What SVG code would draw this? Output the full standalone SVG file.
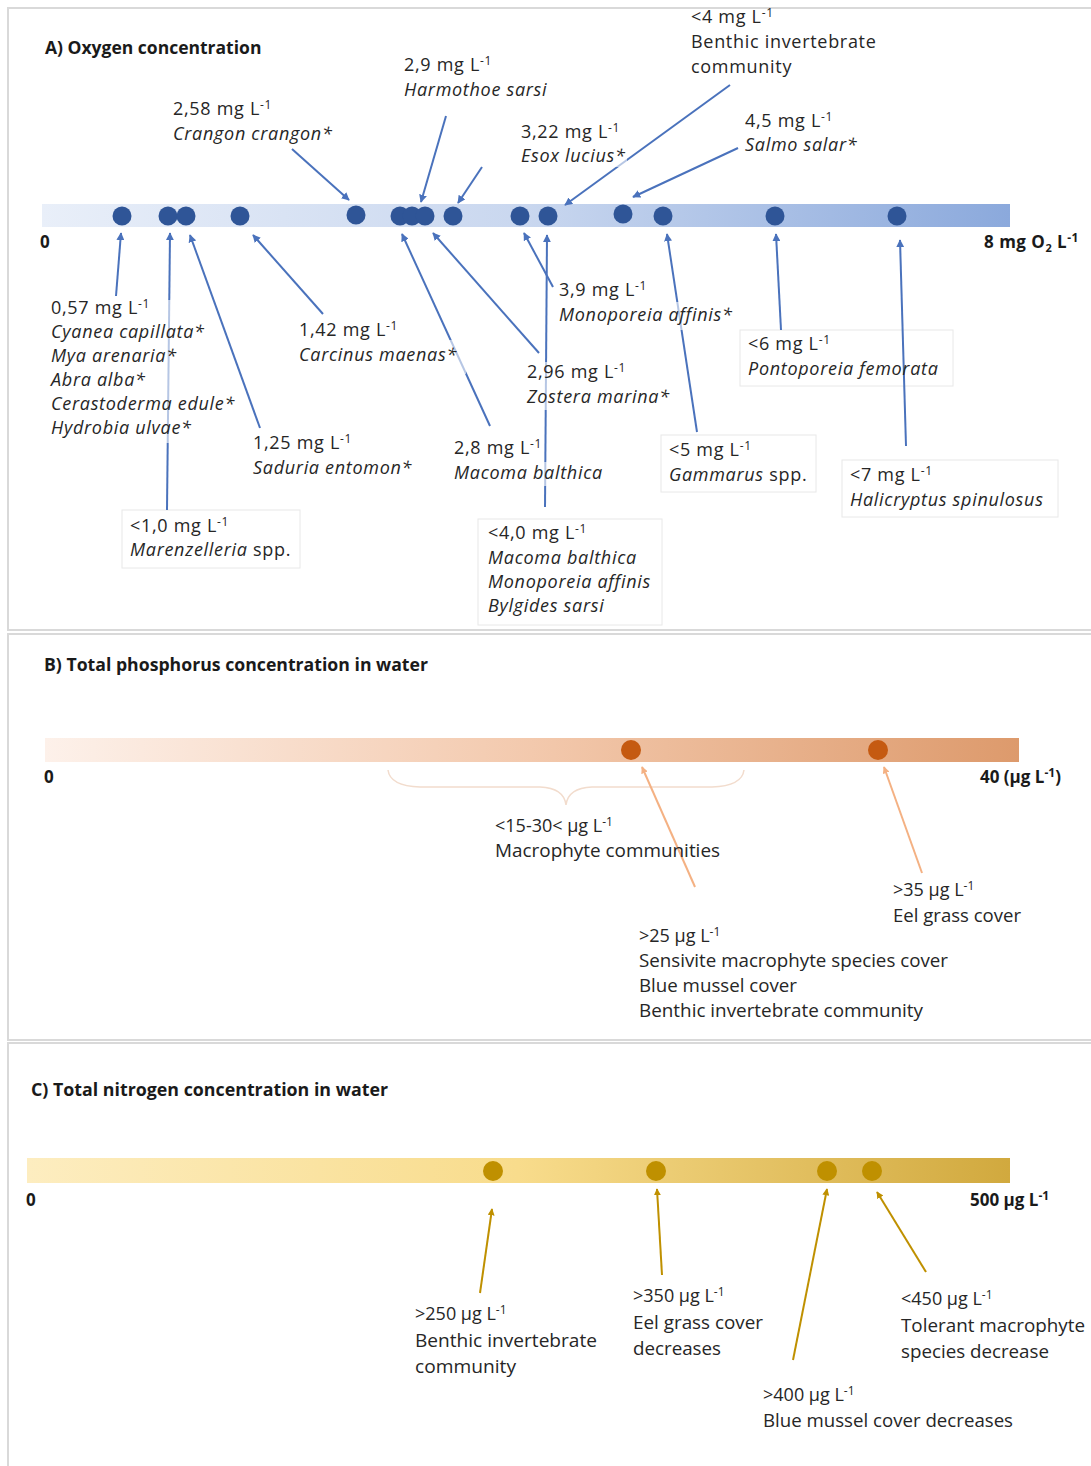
<svg xmlns="http://www.w3.org/2000/svg" width="1091" height="1466" viewBox="0 0 1091 1466">
<defs>
<linearGradient id="gA" x1="0" x2="1" y1="0" y2="0"><stop offset="0" stop-color="#e9eff9"/><stop offset="0.5" stop-color="#c9d7ef"/><stop offset="1" stop-color="#8ba9dc"/></linearGradient>
<linearGradient id="gB" x1="0" x2="1" y1="0" y2="0"><stop offset="0" stop-color="#fdf1ea"/><stop offset="0.5" stop-color="#f3c9ad"/><stop offset="1" stop-color="#dd9a6c"/></linearGradient>
<linearGradient id="gC" x1="0" x2="1" y1="0" y2="0"><stop offset="0" stop-color="#fdedc0"/><stop offset="0.5" stop-color="#f8dc8c"/><stop offset="1" stop-color="#d1a93e"/></linearGradient>
<marker id="mA" viewBox="0 0 10 10" refX="9" refY="5" markerWidth="8" markerHeight="8" markerUnits="userSpaceOnUse" orient="auto"><path d="M0,0 L10,5 L0,10 z" fill="#4a72bc"/></marker>
<marker id="mB" viewBox="0 0 10 10" refX="9" refY="5" markerWidth="7" markerHeight="7" markerUnits="userSpaceOnUse" orient="auto"><path d="M0,0 L10,5 L0,10 z" fill="#f4b183"/></marker>
<marker id="mC" viewBox="0 0 10 10" refX="9" refY="5" markerWidth="7" markerHeight="7" markerUnits="userSpaceOnUse" orient="auto"><path d="M0,0 L10,5 L0,10 z" fill="#bf9000"/></marker>
</defs>
<style>
.frame{fill:#fff;stroke:#d9d9d9;stroke-width:2}
.box{fill:#fff;stroke:#e8e8e8;stroke-width:1}
.veil{fill:#fff;opacity:0.6}
.t{font-family:"Open Sans","DejaVu Sans",sans-serif;font-size:18px;letter-spacing:0.7px;fill:#262626}
.i{font-style:italic}
.b{font-weight:bold}
.title{font-family:"Open Sans","DejaVu Sans",sans-serif;font-size:17.5px;font-weight:bold;fill:#1a1a1a}
.n{font-family:"Open Sans","DejaVu Sans",sans-serif;font-size:18px;fill:#262626}
.nb{font-family:"Open Sans","DejaVu Sans",sans-serif;font-size:17px;font-weight:bold;fill:#1a1a1a}
.sup{font-size:12px}
.dA{fill:#2f5597}
.dB{fill:#c55a11}
.dC{fill:#bf9000}
.aA{stroke:#4a72bc;stroke-width:2;fill:none;marker-end:url(#mA)}
.aB{stroke:#f4b183;stroke-width:2;fill:none;marker-end:url(#mB)}
.aC{stroke:#bf9000;stroke-width:2;fill:none;marker-end:url(#mC)}
</style>
<rect width="1091" height="1466" fill="#fff"/>
<g id="frames">
<rect class="frame" x="8" y="8" width="1100" height="622"/>
<rect class="frame" x="8" y="634" width="1100" height="406"/>
<rect class="frame" x="8" y="1043" width="1100" height="440"/>
</g>
<g id="panelA">
<text class="title" x="45" y="54">A) Oxygen concentration</text>
<rect x="42" y="204" width="968" height="23" fill="url(#gA)"/>
<text class="nb" x="40" y="248">0</text>
<text class="nb" x="984" y="248" letter-spacing="0.5">8 mg O<tspan font-size="11" dy="4">2</tspan><tspan dy="-4"> L</tspan><tspan class="sup" dy="-6">-1</tspan></text>
</g>
<g id="dotsA">
<circle class="dA" cx="122" cy="216" r="9.5"/>
<circle class="dA" cx="168" cy="216" r="9.5"/>
<circle class="dA" cx="186" cy="216" r="9.5"/>
<circle class="dA" cx="240" cy="216" r="9.5"/>
<circle class="dA" cx="356" cy="215" r="9.5"/>
<circle class="dA" cx="400" cy="216" r="9.5"/>
<circle class="dA" cx="412" cy="216" r="9.5"/>
<circle class="dA" cx="425" cy="216" r="9.5"/>
<circle class="dA" cx="453" cy="216" r="9.5"/>
<circle class="dA" cx="520" cy="216" r="9.5"/>
<circle class="dA" cx="548" cy="216" r="9.5"/>
<circle class="dA" cx="623" cy="214" r="9.5"/>
<circle class="dA" cx="663" cy="216" r="9.5"/>
<circle class="dA" cx="775" cy="216" r="9.5"/>
<circle class="dA" cx="897" cy="216" r="9.5"/>
</g>
<g id="boxesA">
<rect class="box" x="122" y="510" width="178" height="58"/>
<rect class="box" x="478" y="519" width="184" height="106"/>
<rect class="box" x="661" y="435" width="155" height="57"/>
<rect class="box" x="740" y="330" width="213" height="56"/>
<rect class="box" x="842" y="460" width="216" height="57"/>
</g>
<g id="panelB">
<rect x="45" y="738" width="974" height="24" fill="url(#gB)"/>
<ellipse class="dB" cx="631" cy="750" rx="10" ry="10"/>
<ellipse class="dB" cx="878" cy="750" rx="10" ry="10"/>
<path d="M388,770 Q390,786 420,787 L540,787 Q564,788 566,805 Q568,788 592,787 L712,787 Q742,786 744,770" fill="none" stroke="#f2dccd" stroke-width="1.5"/>
</g>
<g id="panelC">
<rect x="27" y="1158" width="983" height="25" fill="url(#gC)"/>
<ellipse class="dC" cx="493" cy="1171" rx="10" ry="10"/>
<ellipse class="dC" cx="656" cy="1171" rx="10" ry="10"/>
<ellipse class="dC" cx="827" cy="1171" rx="10" ry="10"/>
<ellipse class="dC" cx="872" cy="1171" rx="10" ry="10"/>
</g>
<g id="connectors">
<line class="aA" x1="292" y1="149" x2="349" y2="200"/>
<line class="aA" x1="446" y1="116" x2="421" y2="202"/>
<line class="aA" x1="482" y1="167" x2="458" y2="203"/>
<line class="aA" x1="730" y1="85" x2="565" y2="205"/>
<line class="aA" x1="738" y1="148" x2="633" y2="197"/>
<line class="aA" x1="116" y1="296" x2="121" y2="233"/>
<line class="aA" x1="167" y1="510" x2="170" y2="233"/>
<line class="aA" x1="260" y1="428" x2="190" y2="235"/>
<line class="aA" x1="323" y1="314" x2="253" y2="235"/>
<line class="aA" x1="490" y1="426" x2="402" y2="234"/>
<line class="aA" x1="539" y1="353" x2="433" y2="233"/>
<line class="aA" x1="553" y1="287" x2="524" y2="233"/>
<line class="aA" x1="545" y1="507" x2="547" y2="235"/>
<line class="aA" x1="697" y1="432" x2="667" y2="234"/>
<line class="aA" x1="781" y1="330" x2="776" y2="234"/>
<line class="aA" x1="906" y1="446" x2="900" y2="240"/>
<line class="aB" x1="695" y1="887" x2="642" y2="767"/>
<line class="aB" x1="922" y1="873" x2="884" y2="767"/>
<line class="aC" x1="480" y1="1293" x2="492" y2="1209"/>
<line class="aC" x1="662" y1="1275" x2="657" y2="1189"/>
<line class="aC" x1="793" y1="1360" x2="827" y2="1189"/>
<line class="aC" x1="926" y1="1272" x2="877" y2="1192"/>
</g>
<g id="veils">
<rect class="veil" x="45" y="300" width="160" height="143"/>
<rect class="veil" x="297" y="340" width="169" height="34"/>
<rect class="veil" x="519" y="145" width="108" height="22"/>
<rect class="veil" x="525" y="362" width="150" height="48"/>
<rect class="veil" x="452" y="462" width="160" height="24"/>
<rect class="veil" x="557" y="302" width="180" height="28"/>
</g>
<g id="labelsA">
<text class="t" x="404" y="71">2,9 mg L<tspan class="sup" dy="-6">-1</tspan></text>
<text class="t i" x="404" y="96">Harmothoe sarsi</text>
<text class="t" x="173" y="115">2,58 mg L<tspan class="sup" dy="-6">-1</tspan></text>
<text class="t i" x="173" y="140">Crangon crangon*</text>
<text class="t" x="521" y="138">3,22 mg L<tspan class="sup" dy="-6">-1</tspan></text>
<text class="t i" x="521" y="162">Esox lucius*</text>
<text class="t" x="691" y="23">&lt;4 mg L<tspan class="sup" dy="-6">-1</tspan></text>
<text class="t" x="691" y="48">Benthic invertebrate</text>
<text class="t" x="691" y="73">community</text>
<text class="t" x="745" y="127">4,5 mg L<tspan class="sup" dy="-6">-1</tspan></text>
<text class="t i" x="745" y="151">Salmo salar*</text>
<text class="t" x="51" y="314">0,57 mg L<tspan class="sup" dy="-6">-1</tspan></text>
<text class="t i" x="51" y="338">Cyanea capillata*</text>
<text class="t i" x="51" y="362">Mya arenaria*</text>
<text class="t i" x="51" y="386">Abra alba*</text>
<text class="t i" x="51" y="410">Cerastoderma edule*</text>
<text class="t i" x="51" y="434">Hydrobia ulvae*</text>
<text class="t" x="299" y="336">1,42 mg L<tspan class="sup" dy="-6">-1</tspan></text>
<text class="t i" x="299" y="361">Carcinus maenas*</text>
<text class="t" x="253" y="449">1,25 mg L<tspan class="sup" dy="-6">-1</tspan></text>
<text class="t i" x="253" y="474">Saduria entomon*</text>
<text class="t" x="130" y="532">&lt;1,0 mg L<tspan class="sup" dy="-6">-1</tspan></text>
<text class="t" x="130" y="556"><tspan class="i">Marenzelleria</tspan> spp.</text>
<text class="t" x="454" y="454">2,8 mg L<tspan class="sup" dy="-6">-1</tspan></text>
<text class="t i" x="454" y="479">Macoma balthica</text>
<text class="t" x="527" y="378">2,96 mg L<tspan class="sup" dy="-6">-1</tspan></text>
<text class="t i" x="527" y="403">Zostera marina*</text>
<text class="t" x="559" y="296">3,9 mg L<tspan class="sup" dy="-6">-1</tspan></text>
<text class="t i" x="559" y="321">Monoporeia affinis*</text>
<text class="t" x="488" y="539">&lt;4,0 mg L<tspan class="sup" dy="-6">-1</tspan></text>
<text class="t i" x="488" y="564">Macoma balthica</text>
<text class="t i" x="488" y="588">Monoporeia affinis</text>
<text class="t i" x="488" y="612">Bylgides sarsi</text>
<text class="t" x="669" y="456">&lt;5 mg L<tspan class="sup" dy="-6">-1</tspan></text>
<text class="t" x="669" y="481"><tspan class="i">Gammarus</tspan> spp.</text>
<text class="t" x="748" y="350">&lt;6 mg L<tspan class="sup" dy="-6">-1</tspan></text>
<text class="t i" x="748" y="375">Pontoporeia femorata</text>
<text class="t" x="850" y="481">&lt;7 mg L<tspan class="sup" dy="-6">-1</tspan></text>
<text class="t i" x="850" y="506">Halicryptus spinulosus</text>
</g>
<g id="labelsB">
<text class="nb" x="44" y="671" textLength="384" lengthAdjust="spacingAndGlyphs">B) Total phosphorus concentration in water</text>
<text class="nb" x="44" y="783">0</text>
<text class="nb" x="980" y="783">40 (μg L<tspan class="sup" dy="-6">-1</tspan><tspan dy="6">)</tspan></text>
<text class="n" x="495" y="832">&lt;15-30&lt; μg L<tspan class="sup" dy="-6">-1</tspan></text>
<text class="n" x="495" y="857" textLength="225" lengthAdjust="spacingAndGlyphs">Macrophyte communities</text>
<text class="n" x="893" y="896">&gt;35 μg L<tspan class="sup" dy="-6">-1</tspan></text>
<text class="n" x="893" y="922" textLength="128" lengthAdjust="spacingAndGlyphs">Eel grass cover</text>
<text class="n" x="639" y="942">&gt;25 μg L<tspan class="sup" dy="-6">-1</tspan></text>
<text class="n" x="639" y="967" textLength="309" lengthAdjust="spacingAndGlyphs">Sensivite macrophyte species cover</text>
<text class="n" x="639" y="992" textLength="158" lengthAdjust="spacingAndGlyphs">Blue mussel cover</text>
<text class="n" x="639" y="1017" textLength="284" lengthAdjust="spacingAndGlyphs">Benthic invertebrate community</text>
</g>
<g id="labelsC">
<text class="nb" x="31" y="1096" textLength="357" lengthAdjust="spacingAndGlyphs">C) Total nitrogen concentration in water</text>
<text class="nb" x="26" y="1206">0</text>
<text class="nb" x="970" y="1206">500 μg L<tspan class="sup" dy="-6">-1</tspan></text>
<text class="n" x="415" y="1320">&gt;250 μg L<tspan class="sup" dy="-6">-1</tspan></text>
<text class="n" x="415" y="1347" textLength="182" lengthAdjust="spacingAndGlyphs">Benthic invertebrate</text>
<text class="n" x="415" y="1373" textLength="101" lengthAdjust="spacingAndGlyphs">community</text>
<text class="n" x="633" y="1302">&gt;350 μg L<tspan class="sup" dy="-6">-1</tspan></text>
<text class="n" x="633" y="1329" textLength="130" lengthAdjust="spacingAndGlyphs">Eel grass cover</text>
<text class="n" x="633" y="1355" textLength="88" lengthAdjust="spacingAndGlyphs">decreases</text>
<text class="n" x="901" y="1305">&lt;450 μg L<tspan class="sup" dy="-6">-1</tspan></text>
<text class="n" x="901" y="1332" textLength="184" lengthAdjust="spacingAndGlyphs">Tolerant macrophyte</text>
<text class="n" x="901" y="1358" textLength="148" lengthAdjust="spacingAndGlyphs">species decrease</text>
<text class="n" x="763" y="1401">&gt;400 μg L<tspan class="sup" dy="-6">-1</tspan></text>
<text class="n" x="763" y="1427" textLength="250" lengthAdjust="spacingAndGlyphs">Blue mussel cover decreases</text>
</g>
</svg>
